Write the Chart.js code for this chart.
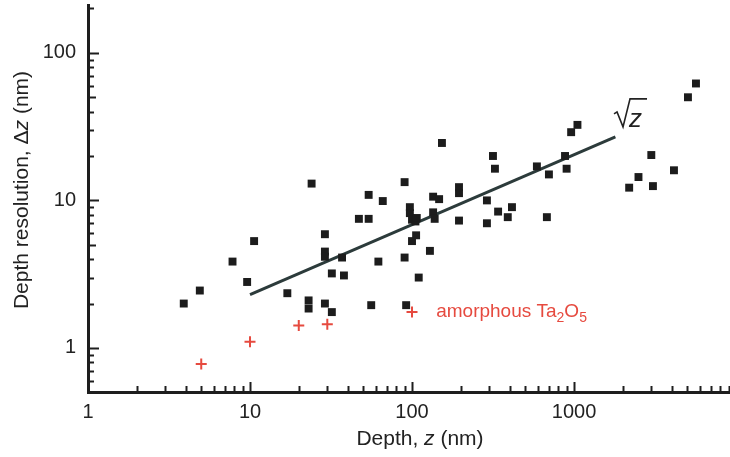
<!DOCTYPE html>
<html>
<head>
<meta charset="utf-8">
<script src="https://cdn.jsdelivr.net/npm/chart.js@4.4.1/dist/chart.umd.min.js"></script>
<style>
    html, body { margin: 0; padding: 0; background: #fff; }
    #wrap { width: 730px; height: 457px; position: relative; }
</style>
</head>
<body>
<div id="wrap"><canvas id="depthChart"></canvas></div>
<script>
// measured points (black squares)
const squareDepth = [
    3.9, 4.9, 7.8, 9.6, 10.6, 17, 23, 23, 24, 29, 29, 29, 29, 32, 32, 37, 38,
    47, 54, 54, 56, 62, 66, 90, 90, 92, 97, 97, 100, 105, 107, 100, 106, 110,
    129, 135, 147, 135, 138, 153, 195, 195, 195, 290, 290, 316, 325, 340, 390,
    414, 590, 680, 700, 880, 900, 960, 1050, 2190, 2500, 3000, 3070, 4140,
    5050, 5660,
];
const squareRes = [
    2.0, 2.45, 3.85, 2.8, 5.3, 2.35, 2.1, 1.85, 13, 5.9, 4.5, 4.15, 2.0, 3.2,
    1.75, 4.1, 3.1, 7.5, 7.5, 10.9, 1.95, 3.85, 9.9, 13.3, 4.1, 1.95, 9.0, 8.2,
    7.4, 7.2, 7.6, 5.3, 5.8, 3.0, 4.55, 10.6, 10.2, 8.3, 7.5, 24.5, 12.3, 11.2,
    7.3, 10, 7.0, 20, 16.4, 8.4, 7.7, 9, 17, 7.7, 15, 20, 16.4, 29, 32.5, 12.2,
    14.4, 20.3, 12.5, 16, 50, 62,
];

// amorphous Ta2O5 (red crosses)
const taDepth = [5, 10, 20, 30, 100];
const taRes = [0.78, 1.1, 1.42, 1.45, 1.75];

// sqrt(z) guide line
const lineDepth = [10, 1800];
const lineRes = [2.3, 27];

const xTickLabels = [1, 10, 100, 1000];
const yTickLabels = [1, 10, 100];

const FONT = "'Liberation Sans', Arial, Helvetica, sans-serif";
const AXIS_COLOR = "#1e1e1e";
const RED = "#e64a3f";

function toPoints(xs, ys) {
    return xs.map((x, i) => ({ x: x, y: ys[i] }));
}

function noPadding(scale) {
    scale.paddingTop = 0;
    scale.paddingBottom = 0;
    scale.paddingLeft = 0;
    scale.paddingRight = 0;
}

// inward ticks, axis titles and text labels
const decorPlugin = {
    id: "decor",
    afterDraw(chart) {
        const ctx = chart.ctx;
        const xs = chart.scales.x;
        const ys = chart.scales.y;
        const area = chart.chartArea;

        ctx.save();
        ctx.strokeStyle = AXIS_COLOR;
        ctx.lineWidth = 2;

        // x ticks
        for (let dec = 1; dec <= 1000; dec *= 10) {
            for (let m = 1; m <= 9; m++) {
                const v = dec * m;
                if (v > xs.max) continue;
                const px = Math.round(xs.getPixelForValue(v)) + 0.5;
                const len = m === 1 ? 10 : 6;
                ctx.beginPath();
                ctx.moveTo(px, area.bottom);
                ctx.lineTo(px, area.bottom - len);
                ctx.stroke();
            }
        }
        // y ticks
        for (let dec = 0.1; dec <= 100; dec *= 10) {
            for (let m = 1; m <= 9; m++) {
                const v = dec * m;
                if (v < ys.min || v > ys.max) continue;
                const py = Math.round(ys.getPixelForValue(v)) + 0.5;
                const len = m === 1 ? 11 : m === 5 ? 8 : 6;
                ctx.beginPath();
                ctx.moveTo(area.left, py);
                ctx.lineTo(area.left + len, py);
                ctx.stroke();
            }
        }

        // x title: Depth, z (nm)
        ctx.fillStyle = "#222";
        ctx.textBaseline = "alphabetic";
        const f = "21px " + FONT;
        const fi = "italic 21px " + FONT;
        const parts = [
            ["Depth, ", f],
            ["z", fi],
            [" (nm)", f],
        ];
        let total = 0;
        parts.forEach((p) => {
            ctx.font = p[1];
            total += ctx.measureText(p[0]).width;
        });
        let tx = 420 - total / 2;
        parts.forEach((p) => {
            ctx.font = p[1];
            ctx.textAlign = "left";
            ctx.fillText(p[0], tx, 445);
            tx += ctx.measureText(p[0]).width;
        });

        // y title: Depth resolution, Δz (nm)
        ctx.save();
        ctx.translate(28, 190);
        ctx.rotate(-Math.PI / 2);
        const yparts = [
            ["Depth resolution, \u0394", f],
            ["z", fi],
            [" (nm)", f],
        ];
        total = 0;
        yparts.forEach((p) => {
            ctx.font = p[1];
            total += ctx.measureText(p[0]).width;
        });
        tx = -total / 2;
        yparts.forEach((p) => {
            ctx.font = p[1];
            ctx.fillText(p[0], tx, 0);
            tx += ctx.measureText(p[0]).width;
        });
        ctx.restore();

        // amorphous Ta2O5 label
        let lx = xs.getPixelForValue(141);
        const ly = ys.getPixelForValue(1.62);
        ctx.fillStyle = RED;
        const big = "19px " + FONT;
        const small = "14px " + FONT;
        const label = [
            ["amorphous Ta", big, 0],
            ["2", small, 5],
            ["O", big, 0],
            ["5", small, 5],
        ];
        label.forEach((p) => {
            ctx.font = p[1];
            ctx.fillText(p[0], lx, ly + p[2]);
            lx += ctx.measureText(p[0]).width;
        });

        // sqrt(z) label
        const rx = xs.getPixelForValue(1766);
        const ry = ys.getPixelForValue(31.5);
        ctx.strokeStyle = "#222";
        ctx.lineWidth = 1.6;
        ctx.beginPath();
        ctx.moveTo(rx, ry - 13);
        ctx.lineTo(rx + 3, ry - 15);
        ctx.lineTo(rx + 9, ry);
        ctx.lineTo(rx + 16, ry - 28);
        ctx.lineTo(rx + 33, ry - 28);
        ctx.stroke();
        ctx.fillStyle = "#222";
        ctx.font = "italic 26px " + FONT;
        ctx.fillText("z", rx + 15, ry);

        ctx.restore();
    },
};

const ctx = document.getElementById("depthChart");

new Chart(ctx, {
    type: "scatter",
    data: {
        datasets: [
            {
                label: "measured",
                data: toPoints(squareDepth, squareRes),
                pointStyle: "rect",
                radius: 5.6,
                backgroundColor: "#1c1c1c",
                borderColor: "#1c1c1c",
                borderWidth: 0,
            },
            {
                label: "amorphous Ta2O5",
                data: toPoints(taDepth, taRes),
                pointStyle: "cross",
                radius: 5.5,
                borderColor: RED,
                borderWidth: 2,
            },
            {
                type: "line",
                label: "sqrt z",
                data: toPoints(lineDepth, lineRes),
                borderColor: "#2c3b3b",
                borderWidth: 3,
                pointRadius: 0,
                fill: false,
            },
        ],
    },
    options: {
        responsive: true,
        maintainAspectRatio: false,
        animation: false,
        events: [],
        layout: {
            autoPadding: false,
            padding: { top: 5, right: 0, left: 0, bottom: 0 },
        },
        plugins: {
            legend: { display: false },
            tooltip: { enabled: false },
        },
        scales: {
            x: {
                type: "logarithmic",
                min: 1,
                max: 9180,
                afterBuildTicks(scale) {
                    scale.ticks = xTickLabels.map((v) => ({ value: v }));
                },
                afterFit(scale) {
                    scale.height = 65;
                    noPadding(scale);
                },
                ticks: {
                    color: "#222",
                    padding: 8,
                    maxRotation: 0,
                    font: { family: FONT, size: 20 },
                    callback: (v) => String(v),
                },
                grid: { display: false, drawTicks: false },
                border: { display: true, width: 3, color: AXIS_COLOR },
            },
            y: {
                type: "logarithmic",
                min: 0.503,
                max: 211,
                afterBuildTicks(scale) {
                    scale.ticks = yTickLabels.map((v) => ({ value: v }));
                },
                afterFit(scale) {
                    scale.width = 88;
                    noPadding(scale);
                },
                ticks: {
                    color: "#222",
                    padding: 12,
                    font: { family: FONT, size: 20 },
                    callback: (v) => String(v),
                },
                grid: { display: false, drawTicks: false },
                border: { display: true, width: 3, color: AXIS_COLOR },
            },
        },
    },
    plugins: [decorPlugin],
});
</script>
</body>
</html>
